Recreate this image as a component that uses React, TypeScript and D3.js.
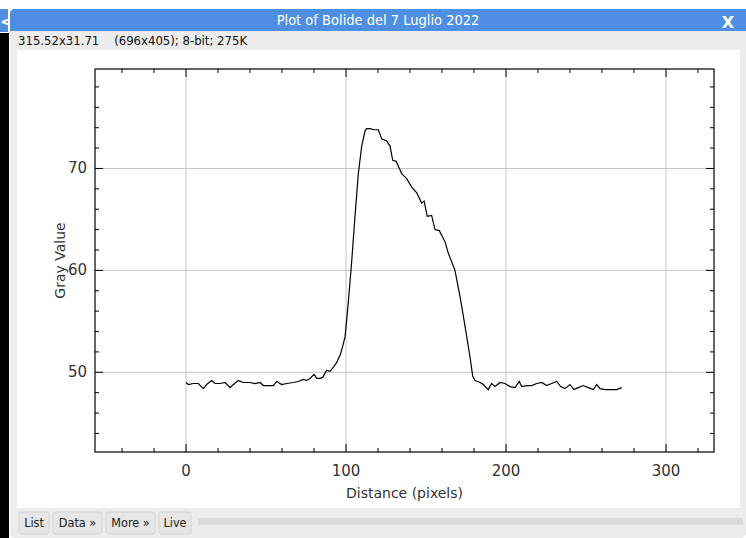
import React from "react";
import * as d3 from "d3";

const distance: number[] = [0,1.5,4.6,7.7,10.8,12.9,16.0,18.1,21.3,24.4,27.5,29.6,32.7,35.8,40,43.1,46.3,48.3,54.6,56.7,59.8,62.9,67.1,70.2,73.3,75.4,77.5,80,81.7,83.8,85.4,87.9,90,92.1,94.3,96.3,98,99.4,101.4,103.6,105.6,107.7,109.8,111.9,112.9,115,117.5,120.2,122.3,125.4,127.5,129.2,131.3,134.8,137.9,141,144.2,147.3,148.8,150.8,153.5,155.6,158.3,161.9,163.9,168.1,171.3,174.4,177.5,179.2,180.6,183.8,185.8,188.9,191,193.1,196.3,199.4,202.5,205.6,208.3,209.8,212.9,216,219.2,222.3,225.4,228.5,231.7,234.2,236.9,240,242.5,245.2,248.3,251.5,254.6,256.7,258.8,261.9,265,269.2,272.3];
const grayValue: number[] = [49.0,48.8,48.9,48.9,48.4,48.8,49.2,48.9,48.9,49.0,48.5,48.8,49.2,49.0,49.0,48.9,49.0,48.7,48.7,49.1,48.8,48.9,49.0,49.1,49.3,49.2,49.4,49.8,49.4,49.4,49.5,50.2,50.1,50.5,51.0,51.7,52.6,53.5,56.8,61.0,65.3,69.5,72.2,73.7,73.9,73.9,73.8,73.8,72.9,72.7,72.2,70.8,70.7,69.5,69.0,68.2,67.6,66.6,66.8,65.3,65.4,64.0,63.9,62.8,61.7,60.0,57.4,54.5,51.5,49.6,49.2,49.0,48.8,48.3,48.9,48.6,49.0,48.9,48.6,48.5,49.1,48.6,48.7,48.7,48.9,49.0,48.7,48.9,49.1,48.6,48.4,48.8,48.3,48.5,48.7,48.5,48.3,48.8,48.4,48.3,48.3,48.3,48.5];

const xMajorTicks: number[] = [0, 100, 200, 300];
const yMajorTicks: number[] = [50, 60, 70];
const xDomain: [number, number] = [-56.9, 330];
const yDomain: [number, number] = [42.18, 79.76];

const windowTitle = "Plot of Bolide del 7 Luglio 2022";
const infoLine = "315.52x31.71    (696x405); 8-bit; 275K";
const xLabel = "Distance (pixels)";
const yLabel = "Gray Value";
const buttons: string[] = ["List", "Data »", "More »", "Live"];

export default function App() {
  const W = 746, H = 538;
  const L = 95, R = 714, T = 69, B = 452;
  const x = d3.scaleLinear().domain(xDomain).range([L, R]);
  const y = d3.scaleLinear().domain(yDomain).range([B, T]);
  const xMinor = d3.range(-40, 330, 20).filter((v) => v % 100 !== 0);
  const yMinor = d3.range(44, 80, 2).filter((v) => v % 10 !== 0);
  const pts: [number, number][] = distance.map((d, i) => [d, grayValue[i]]);
  const line = d3.line<[number, number]>().x((d) => x(d[0])).y((d) => y(d[1]));
  const sans = "'DejaVu Sans', sans-serif";
  const narrow = "'Liberation Sans Narrow', 'DejaVu Sans Condensed', sans-serif";
  const btnX = [19, 53, 106, 159];
  const btnW = [30, 49, 49, 32];
  return (
    <svg width={W} height={H} style={{ position: "absolute", left: 0, top: 0 }}>
      <rect x={0} y={0} width={W} height={H} fill="#ffffff" />
      {/* background window on the left */}
      <rect x={0} y={33} width={9} height={H - 33} fill="#000000" />
      <rect x={0} y={9} width={8} height={23} fill="#4f8fe3" />
      <text x={0} y={27} fill="#ffffff" fontFamily={sans} fontSize={16} fontWeight="bold">{"<"}</text>
      {/* main window */}
      <rect x={10} y={9} width={W - 10} height={H - 9} rx={5} fill="#ececec" />
      <path d={`M10,31 V14 Q10,9 15,9 H${W} V31 Z`} fill="#4f8fe3" />
      <text x={378} y={25} textAnchor="middle" fill="#ffffff" fontFamily={narrow} fontSize={14.5}>{windowTitle}</text>
      <text x={728} y={28} textAnchor="middle" fill="#ffffff" fontFamily={sans} fontSize={16} fontWeight="bold">X</text>
      <text x={18} y={45} fill="#111" fontFamily={narrow} fontSize={13} style={{ whiteSpace: "pre" }}>{infoLine}</text>
      <rect x={17} y={50} width={723} height={458} fill="#ffffff" />
      {/* grid */}
      {xMajorTicks.map((t) => (
        <line key={"gx" + t} x1={x(t)} x2={x(t)} y1={T} y2={B} stroke="#c4c4c4" strokeWidth={1} />
      ))}
      {yMajorTicks.map((t) => (
        <line key={"gy" + t} x1={L} x2={R} y1={y(t)} y2={y(t)} stroke="#c4c4c4" strokeWidth={1} />
      ))}
      {/* ticks */}
      {xMinor.map((t) => (
        <g key={"xm" + t}>
          <line x1={x(t)} x2={x(t)} y1={B} y2={B - 4} stroke="#000" />
          <line x1={x(t)} x2={x(t)} y1={T} y2={T + 4} stroke="#000" />
        </g>
      ))}
      {xMajorTicks.map((t) => (
        <g key={"xM" + t}>
          <line x1={x(t)} x2={x(t)} y1={B} y2={B - 8} stroke="#000" />
          <line x1={x(t)} x2={x(t)} y1={T} y2={T + 8} stroke="#000" />
          <text x={x(t)} y={B + 24} textAnchor="middle" fontFamily={sans} fontSize={15} fill="#333">{t}</text>
        </g>
      ))}
      {yMinor.map((t) => (
        <g key={"ym" + t}>
          <line x1={L} x2={L + 4} y1={y(t)} y2={y(t)} stroke="#000" />
          <line x1={R} x2={R - 4} y1={y(t)} y2={y(t)} stroke="#000" />
        </g>
      ))}
      {yMajorTicks.map((t) => (
        <g key={"yM" + t}>
          <line x1={L} x2={L + 8} y1={y(t)} y2={y(t)} stroke="#000" />
          <line x1={R} x2={R - 8} y1={y(t)} y2={y(t)} stroke="#000" />
          <text x={L - 8} y={y(t) + 5} textAnchor="end" fontFamily={sans} fontSize={15} fill="#333">{t}</text>
        </g>
      ))}
      <path d={line(pts) || ""} fill="none" stroke="#000" strokeWidth={1.2} />
      <rect x={L} y={T} width={R - L} height={B - T} fill="none" stroke="#000" strokeWidth={1.2} />
      <text x={(L + R) / 2} y={B + 46} textAnchor="middle" fontFamily={sans} fontSize={14} fill="#333">{xLabel}</text>
      <text transform={`translate(65,${(T + B) / 2}) rotate(-90)`} textAnchor="middle" fontFamily={sans} fontSize={14} fill="#333">{yLabel}</text>
      {/* bottom buttons */}
      {buttons.map((b, i) => (
        <g key={b}>
          <rect x={btnX[i]} y={512} width={btnW[i]} height={22} rx={2} fill="#e6e6e6" stroke="#d4d4d4" />
          <text x={btnX[i] + btnW[i] / 2} y={527} textAnchor="middle" fontFamily={narrow} fontSize={12.5} fill="#222">{b}</text>
        </g>
      ))}
      <rect x={198} y={518} width={545} height={7} fill="#d9d9d9" />
    </svg>
  );
}
